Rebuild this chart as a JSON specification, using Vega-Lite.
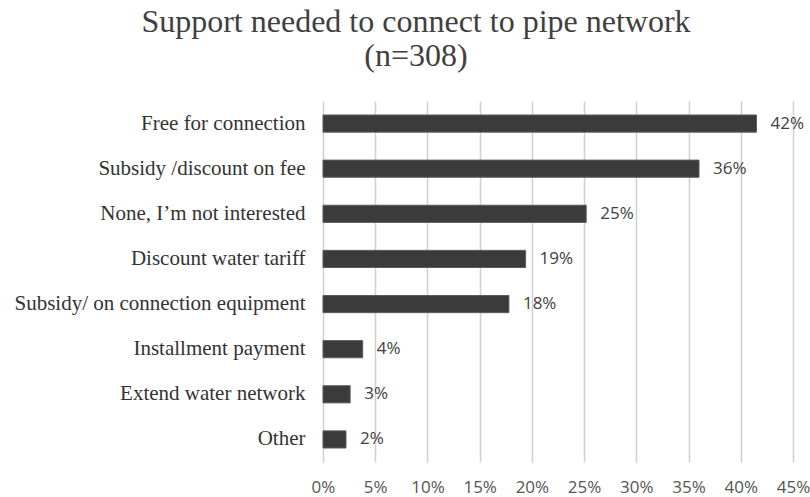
{
  "$schema": "https://vega.github.io/schema/vega-lite/v6.json",
  "autosize": {"type": "none"},
  "width": 470,
  "height": 361,
  "padding": {"left": 323, "top": 101, "right": 17, "bottom": 35},
  "background": "white",
  "title": {
    "text": ["Support needed to connect to pipe network", "(n=308)"],
    "font": "Liberation Serif",
    "fontSize": 32,
    "fontWeight": "normal",
    "color": "#404040",
    "lineHeight": 34,
    "anchor": "middle",
    "frame": "group",
    "dx": -142,
    "offset": 28
  },
  "data": {
    "values": [
      {"option": "Free for connection", "share": 41.5, "label": "42%"},
      {"option": "Subsidy /discount on fee", "share": 36.0, "label": "36%"},
      {"option": "None, I’m not interested", "share": 25.2, "label": "25%"},
      {"option": "Discount water tariff", "share": 19.4, "label": "19%"},
      {"option": "Subsidy/ on connection equipment", "share": 17.8, "label": "18%"},
      {"option": "Installment payment", "share": 3.8, "label": "4%"},
      {"option": "Extend water network", "share": 2.6, "label": "3%"},
      {"option": "Other", "share": 2.2, "label": "2%"}
    ]
  },
  "encoding": {
    "y": {
      "field": "option",
      "type": "nominal",
      "sort": null,
      "scale": {"paddingInner": 0.62, "paddingOuter": 0.31},
      "axis": {
        "title": null,
        "domain": false,
        "ticks": false,
        "grid": false,
        "labelFont": "Liberation Serif",
        "labelFontSize": 21,
        "labelColor": "#333333",
        "labelPadding": 18,
        "labelLimit": 400
      }
    },
    "x": {
      "field": "share",
      "type": "quantitative",
      "scale": {"domain": [0, 45]},
      "axis": {
        "title": null,
        "values": [0, 5, 10, 15, 20, 25, 30, 35, 40, 45],
        "labelExpr": "datum.value + '%'",
        "domain": false,
        "ticks": false,
        "grid": true,
        "gridColor": "#d0d0d0",
        "gridWidth": 1.5,
        "labelFont": "Open Sans",
        "labelFontSize": 17,
        "labelColor": "#555555",
        "labelPadding": 17,
        "labelFlush": false
      }
    }
  },
  "layer": [
    {
      "mark": {"type": "bar", "color": "#3b3b3b", "stroke": "#5c5c5c", "strokeWidth": 1}
    },
    {
      "mark": {"type": "text", "align": "left", "baseline": "middle", "dx": 14, "font": "Open Sans", "fontSize": 17, "color": "#404040"},
      "encoding": {"text": {"field": "label"}}
    }
  ],
  "config": {"view": {"stroke": null}}
}
